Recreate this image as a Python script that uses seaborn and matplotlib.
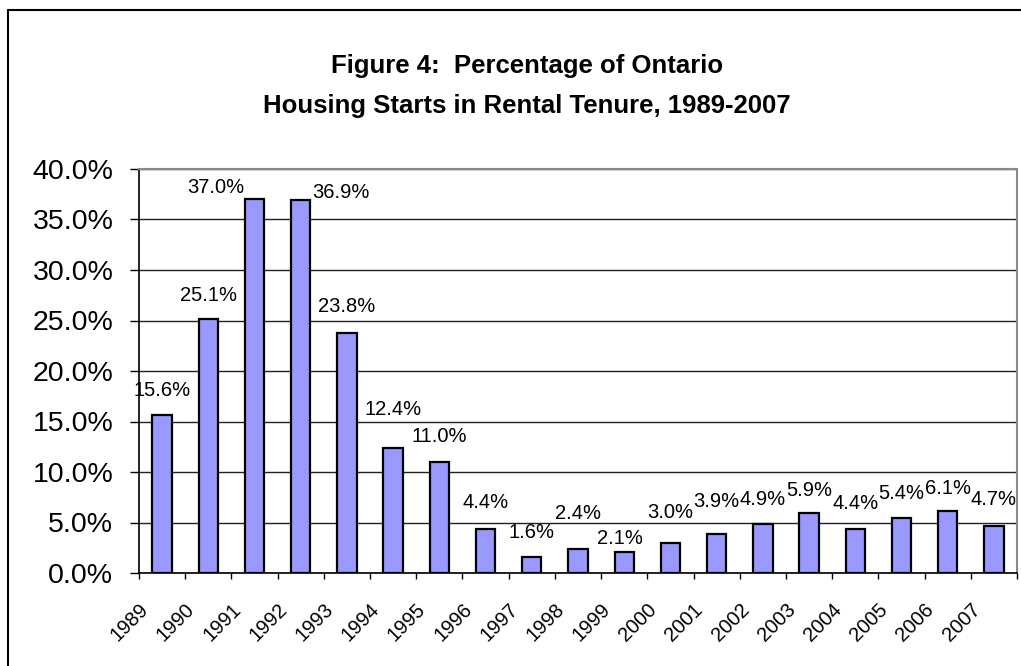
import matplotlib
matplotlib.use("Agg")
import matplotlib.pyplot as plt
import matplotlib.transforms as mtransforms
from matplotlib.lines import Line2D
from matplotlib.ticker import PercentFormatter, FixedLocator
import seaborn as sns
import pandas as pd

years = [str(y) for y in range(1989, 2008)]
rental_pct = [15.6, 25.1, 37.0, 36.9, 23.8, 12.4, 11.0, 4.4, 1.6, 2.4,
              2.1, 3.0, 3.9, 4.9, 5.9, 4.4, 5.4, 6.1, 4.7]

# label nudges in pixels (dx, dy above bar top), the original had some labels moved by hand
label_nudge = [(0, 25), (0, 24), (-39, 12), (40, 8), (0, 26), (0, 38), (0, 25),
               (0, 26), (0, 24), (0, 35), (-4, 13), (0, 30), (0, 32), (0, 24),
               (0, 23), (0, 25), (0, 25), (0, 23), (0, 26)]

df = pd.DataFrame({"Year": years, "Pct": rental_pct})

sns.set_style("white")
plt.rcParams["font.family"] = ["Liberation Sans", "DejaVu Sans"]
plt.rcParams["text.color"] = "black"
plt.rcParams["xtick.color"] = "black"
plt.rcParams["ytick.color"] = "black"
plt.rcParams["axes.labelcolor"] = "black"

fig = plt.figure(figsize=(10.21, 6.66), dpi=100)
W, H = 1021, 666
ax = fig.add_axes([139 / W, 1 - 573 / H, (1017 - 139) / W, (573 - 169) / H])

sns.barplot(data=df, x="Year", y="Pct", color="#9999FF", saturation=1,
            edgecolor="black", linewidth=1.6, width=0.42, ax=ax, zorder=3)

ax.set_xlim(-0.5, len(years) - 0.5)
ax.set_ylim(0, 40)
ax.set_yticks(range(0, 41, 5))
ax.yaxis.set_major_formatter(PercentFormatter(decimals=1))
ax.yaxis.grid(True, color="#202020", linewidth=1.0, zorder=0)
ax.set_axisbelow(True)
ax.set_xlabel("")
ax.set_ylabel("")

for side in ["left", "bottom"]:
    ax.spines[side].set_color("black")
    ax.spines[side].set_linewidth(1.2)
for side in ["top", "right"]:
    ax.spines[side].set_color("#8a8a8a")
    ax.spines[side].set_linewidth(1.5)

ax.tick_params(axis="y", which="major", direction="out", length=6.5, width=1,
               color="black", pad=12, labelsize=20.5, left=True, labelcolor="black")

# category boundary tick marks on the x axis
ax.xaxis.set_minor_locator(FixedLocator([i - 0.5 for i in range(len(years) + 1)]))
ax.tick_params(axis="x", which="minor", direction="out", length=4.5, width=1,
               color="black", bottom=True)
ax.tick_params(axis="x", which="major", length=0, pad=24, labelsize=14.5,
               labelcolor="black")
ax.set_xticks(range(len(years)))
ax.set_xticklabels(years)
shift = mtransforms.ScaledTranslation(-12 / 72, 0, fig.dpi_scale_trans)
for lab in ax.get_xticklabels():
    lab.set_rotation(45)
    lab.set_ha("right")
    lab.set_va("center")
    lab.set_rotation_mode("anchor")
    lab.set_transform(lab.get_transform() + shift)

for i, (v, (dx, dy)) in enumerate(zip(rental_pct, label_nudge)):
    ax.annotate(f"{v:.1f}%", xy=(i, v), xytext=(dx * 0.72, dy * 0.72),
                textcoords="offset points", ha="center", va="center",
                fontsize=14.5, color="black", zorder=4)

fig.text(527 / W, 1 - 66 / H, "Figure 4:  Percentage of Ontario",
         ha="center", va="center", fontsize=18.5, fontweight="bold", color="black")
fig.text(527 / W, 1 - 106 / H, "Housing Starts in Rental Tenure, 1989-2007",
         ha="center", va="center", fontsize=18.5, fontweight="bold", color="black")

# outer chart border (left and top visible in the original crop)
fig.add_artist(Line2D([8 / W, 8 / W], [0, 1 - 10 / H], color="black", linewidth=1.5))
fig.add_artist(Line2D([8 / W, 1], [1 - 10 / H, 1 - 10 / H], color="black", linewidth=1.5))

fig.savefig("out.png", dpi=100, facecolor="white")
